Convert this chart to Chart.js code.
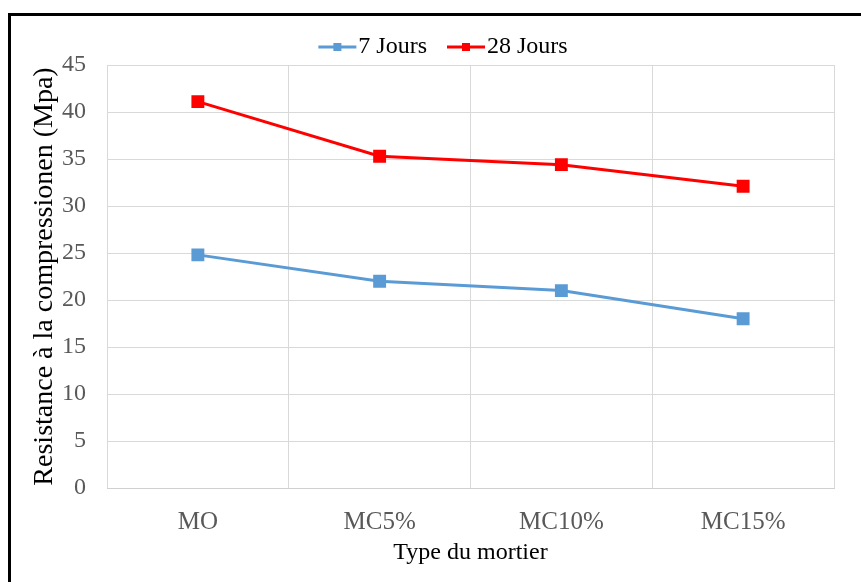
<!DOCTYPE html>
<html>
<head>
<meta charset="utf-8">
<script src="https://cdn.jsdelivr.net/npm/chart.js@4.4.0/dist/chart.umd.min.js"></script>
<style>
  body { margin: 0; background: #fff; }
  #wrap { position: relative; width: 861px; height: 582px; }
  #frame { position: absolute; left: 8px; top: 13px; right: 0; bottom: 0;
           border-top: 3px solid #000; border-left: 3px solid #000; pointer-events: none; }
</style>
</head>
<body>
<div id="wrap">
  <canvas id="line-chart" width="861" height="582"></canvas>
  <div id="frame"></div>
</div>
<script>
const categories = ["MO", "MC5%", "MC10%", "MC15%"];
const jours7 = [24.8, 22.0, 21.0, 18.0];
const jours28 = [41.1, 35.3, 34.4, 32.1];
const yTicks = [0, 5, 10, 15, 20, 25, 30, 35, 40, 45];

const serif = "'Liberation Serif', 'Times New Roman', serif";

// legend sample: line with a square marker, drawn a bit off-centre so it
// runs right up to the label text
function legendMark(color) {
  const c = document.createElement("canvas");
  c.width = 52;
  c.height = 12;
  const g = c.getContext("2d");
  g.strokeStyle = color;
  g.lineWidth = 3;
  g.beginPath();
  g.moveTo(12, 6);
  g.lineTo(50, 6);
  g.stroke();
  g.fillStyle = color;
  g.fillRect(27, 2, 8, 8);
  return c;
}

// nudge legend to the right like in the original
const shiftLegend = {
  id: "shiftLegend",
  afterLayout(chart) {
    chart.legend.left += 16;
    chart.legend.right += 16;
  },
};

const ctx = document.querySelector("#line-chart").getContext("2d");

new Chart(ctx, {
  type: "line",
  data: {
    labels: categories,
    datasets: [
      {
        label: "7 Jours",
        data: jours7,
        borderColor: "#5B9BD5",
        backgroundColor: "#5B9BD5",
        borderWidth: 3,
        pointStyle: "rect",
        pointRadius: 7,
        pointHoverRadius: 7,
        tension: 0,
      },
      {
        label: "28 Jours",
        data: jours28,
        borderColor: "#FF0000",
        backgroundColor: "#FF0000",
        borderWidth: 3,
        pointStyle: "rect",
        pointRadius: 7,
        pointHoverRadius: 7,
        tension: 0,
      },
    ],
  },
  plugins: [shiftLegend],
  options: {
    responsive: false,
    animation: false,
    layout: { padding: { left: 20, right: 27, top: 15, bottom: 10 } },
    plugins: {
      legend: {
        position: "top",
        maxHeight: 50,
        labels: {
          font: { family: serif, size: 24 },
          color: "#000",
          usePointStyle: true,
          pointStyleWidth: 28,
          padding: 20,
          generateLabels: (chart) =>
            chart.data.datasets.map((ds, i) => ({
              text: ds.label,
              pointStyle: legendMark(ds.borderColor),
              fillStyle: ds.borderColor,
              strokeStyle: ds.borderColor,
              lineWidth: 0,
              datasetIndex: i,
              fontColor: "#000",
            })),
        },
      },
      tooltip: { enabled: false },
    },
    scales: {
      x: {
        offset: true,
        grid: { offset: true, color: "#d9d9d9", drawTicks: false },
        border: { color: "#d0d0d0" },
        ticks: { font: { family: serif, size: 25 }, color: "#595959", padding: 19 },
        title: {
          display: true,
          text: "Type du mortier",
          font: { family: serif, size: 24 },
          color: "#000",
          padding: { top: 4, bottom: 5 },
        },
        afterFit: (scale) => { scale.height = 84; },
      },
      y: {
        min: 0,
        max: 45,
        afterBuildTicks: (scale) => { scale.ticks = yTicks.map((v) => ({ value: v })); },
        grid: { color: "#d9d9d9", drawTicks: false },
        border: { display: false },
        ticks: { font: { family: serif, size: 24 }, color: "#595959", padding: 21 },
        title: {
          display: true,
          text: "Resistance à la compressionen (Mpa)",
          font: { family: serif, size: 28 },
          color: "#000",
          padding: { top: 8, bottom: 0 },
        },
        afterFit: (scale) => { scale.width = 87; },
      },
    },
  },
});
</script>
</body>
</html>
